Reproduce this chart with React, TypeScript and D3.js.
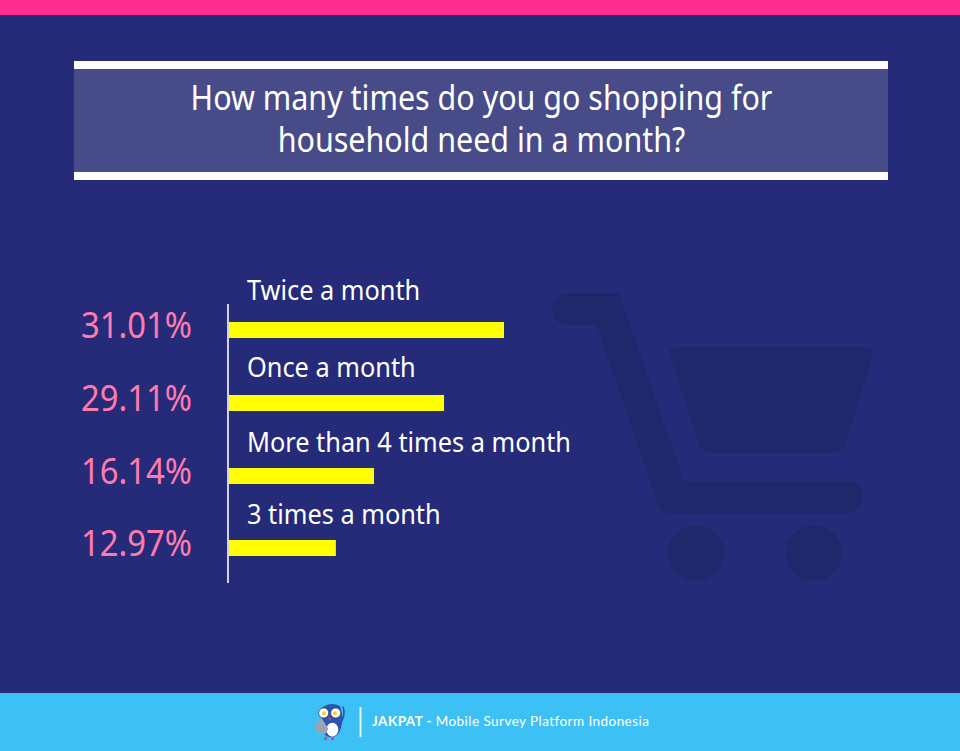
import { useEffect, useRef } from "react"
import * as d3 from "d3"

const categories = ["Twice a month", "Once a month", "More than 4 times a month", "3 times a month"]
const percentLabels = ["31.01%", "29.11%", "16.14%", "12.97%"]
// bar lengths as drawn in the picture, they don't follow the printed percentages exactly
const barValues = [31.01, 24.25, 16.35, 12.05]
const titleLines = ["How many times do you go shopping for", "household need in a month?"]

const FONT = "'Noto Sans', sans-serif"
const BG = "#252a79"
const CART = "#20286c"

// the labels don't sit at one fixed distance above their bars
const labelOffsets = [22.5, 18, 16.5, 16]

export default function App() {
  const svgRef = useRef<SVGSVGElement>(null)

  useEffect(() => {
    if (!svgRef.current) return

    const svg = d3.select(svgRef.current)
    svg.selectAll("*").remove()

    // Background bands
    svg.append("rect").attr("width", 960).attr("height", 751).attr("fill", BG)
    svg.append("rect").attr("width", 960).attr("height", 15).attr("fill", "#ff2d8f")
    svg.append("rect").attr("y", 693).attr("width", 960).attr("height", 58).attr("fill", "#3dc1f4")

    // Cart watermark
    const cart = svg.append("g").attr("fill", CART)
    cart.append("path").attr("d", "M568 293 L619 293 L684 481 L847 481 A16 16 0 0 1 847 513 L668 513 Q661 513 659 507 L597 325 L568 325 A16 16 0 0 1 568 293 Z")
    cart.append("path").attr("d", "M675 347 L868 347 Q874 347 873 354 L846 442 Q843 453 832 453 L711 453 Q702 453 699 444 L670 355 Q669 347 675 347 Z")
    cart.append("circle").attr("cx", 696).attr("cy", 553).attr("r", 28)
    cart.append("circle").attr("cx", 814).attr("cy", 553).attr("r", 28)

    // Title box
    svg.append("rect").attr("x", 74).attr("y", 61).attr("width", 814).attr("height", 119).attr("fill", "#474b88")
    svg.append("rect").attr("x", 74).attr("y", 61).attr("width", 814).attr("height", 8).attr("fill", "#fff")
    svg.append("rect").attr("x", 74).attr("y", 172).attr("width", 814).attr("height", 8).attr("fill", "#fff")
    svg.selectAll(".title").data(titleLines).join("text")
      .attr("class", "title")
      .attr("transform", (_, i) => `translate(481.5,${110 + i * 42}) scale(0.87,1)`)
      .attr("text-anchor", "middle")
      .attr("font-family", FONT)
      .attr("font-size", 35)
      .attr("fill", "#fff")
      .text(d => d)

    // Bars
    const x = d3.scaleLinear().domain([0, 31.01]).range([229, 504])
    const y = d3.scaleBand<string>().domain(categories).range([322.3, 322.3 + 72.6 * 4])
    const barY = (d: string) => Math.round(y(d) as number)

    svg.selectAll(".bar").data(categories).join("rect")
      .attr("class", "bar")
      .attr("x", x(0))
      .attr("y", d => barY(d))
      .attr("width", (_, i) => x(barValues[i]) - x(0))
      .attr("height", 16)
      .attr("fill", "#ffff00")

    svg.append("line")
      .attr("x1", 228).attr("x2", 228)
      .attr("y1", 304).attr("y2", 583)
      .attr("stroke", "#fff")
      .attr("stroke-width", 1.6)

    svg.selectAll(".cat").data(categories).join("text")
      .attr("class", "cat")
      .attr("transform", (d, i) => `translate(247,${barY(d) - labelOffsets[i]}) scale(0.905,1)`)
      .attr("font-family", FONT)
      .attr("font-size", 28)
      .attr("fill", "#fff")
      .text(d => d)

    svg.selectAll(".pct").data(categories).join("text")
      .attr("class", "pct")
      .attr("transform", d => `translate(192,${barY(d) + 15.5}) scale(0.91,1)`)
      .attr("text-anchor", "end")
      .attr("font-family", FONT)
      .attr("font-size", 36)
      .attr("fill", "#ff7bac")
      .text((_, i) => percentLabels[i])

    // Footer owl, drawn in 3x units
    const owl = svg.append("g").attr("transform", "translate(305,698) scale(0.3333)")
    owl.append("path").attr("d", "M108 72 Q122 50 114 26").attr("fill", "none").attr("stroke", "#2d55b0").attr("stroke-width", 5)
    owl.append("path").attr("d", "M50 30 Q75 10 105 24 Q118 60 108 90 Q100 118 78 118 Q56 118 50 90 Z").attr("fill", "#2d55b0")
    owl.append("ellipse").attr("cx", 82).attr("cy", 95).attr("rx", 18).attr("ry", 21).attr("fill", "#fff")
    owl.append("path").attr("d", "M26 84 L50 60 L70 92 L62 108 L40 104 Z").attr("fill", "#9aa3b5")
    owl.append("circle").attr("cx", 56).attr("cy", 45).attr("r", 15).attr("fill", "#fff").attr("stroke", "#333").attr("stroke-width", 2)
    owl.append("circle").attr("cx", 92).attr("cy", 45).attr("r", 15).attr("fill", "#fff").attr("stroke", "#333").attr("stroke-width", 2)
    owl.append("circle").attr("cx", 57).attr("cy", 46).attr("r", 6).attr("fill", "#f2d024")
    owl.append("circle").attr("cx", 90).attr("cy", 46).attr("r", 6).attr("fill", "#f2d024")
    owl.append("path").attr("d", "M70 60 L78 60 L74 70 Z").attr("fill", "#e0356f")
    owl.append("rect").attr("x", 58).attr("y", 117).attr("width", 7).attr("height", 9).attr("fill", "#e0356f")
    owl.append("rect").attr("x", 79).attr("y", 117).attr("width", 7).attr("height", 9).attr("fill", "#e0356f")

    svg.append("line").attr("x1", 360.5).attr("x2", 360.5).attr("y1", 707).attr("y2", 737)
      .attr("stroke", "#fff").attr("stroke-width", 2).attr("opacity", 0.85)

    const footer = svg.append("text")
      .attr("x", 372)
      .attr("y", 726)
      .attr("font-family", "Lato, sans-serif")
      .attr("font-size", 13.5)
      .attr("letter-spacing", 0.45)
      .attr("fill", "#fff")
    footer.append("tspan").attr("font-weight", 700).text("JAKPAT - ")
    footer.append("tspan").text("Mobile Survey Platform Indonesia")
  }, [])

  return (
    <svg
      ref={svgRef}
      width={960}
      height={751}
      style={{ position: "absolute", left: 0, top: 0, display: "block" }}
    />
  )
}
